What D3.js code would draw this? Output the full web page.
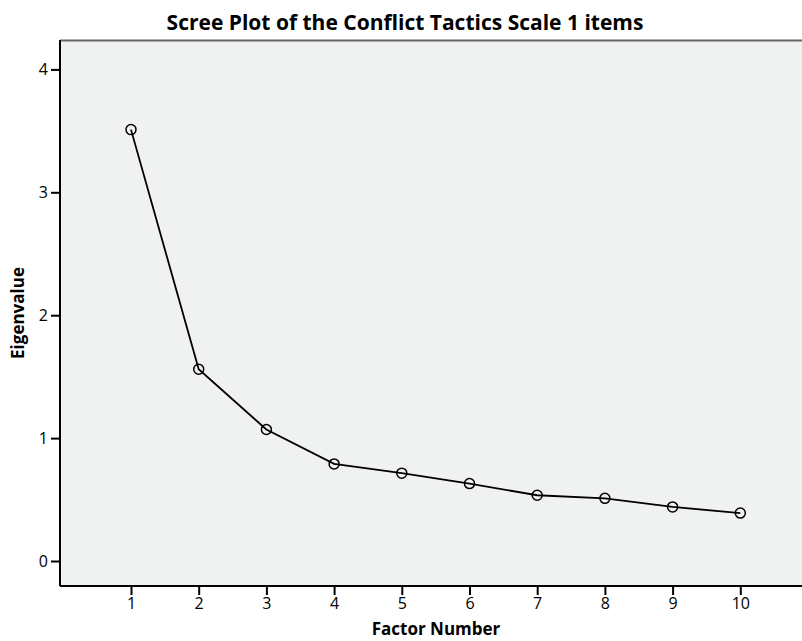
<!DOCTYPE html>
<html>
<head>
<meta charset="utf-8">
<title>Scree Plot</title>
<script src="https://cdn.jsdelivr.net/npm/d3@7"></script>
<style>
body { margin: 0; background: #fff; }
text { font-family: "Open Sans", "DejaVu Sans", sans-serif; fill: #000; }
.title { font-weight: bold; font-size: 21px; }
.axis-title { font-weight: bold; font-size: 17px; }
</style>
</head>
<body>
<div id="chart"></div>
<script>
// factor numbers and eigenvalues
var factors = [1, 2, 3, 4, 5, 6, 7, 8, 9, 10];
var eigenvalues = [3.51, 1.56, 1.07, 0.79, 0.715, 0.63, 0.535, 0.51, 0.44, 0.39];
var yTicks = [0, 1, 2, 3, 4];

var width = 802, height = 641;
var margin = {top: 40, right: 0, bottom: 55, left: 60};
var plotW = width - margin.left - margin.right,
    plotH = height - margin.top - margin.bottom;

var svg = d3.select('#chart').append('svg')
    .attr('width', width)
    .attr('height', height);

var g = svg.append('g')
    .attr('transform', 'translate(' + [margin.left, margin.top] + ')');

var x = d3.scaleLinear()
    .domain([1 - 71 / 67.7, 1 + (plotW - 71) / 67.7])
    .range([0, plotW]);
var y = d3.scaleLinear()
    .domain([0, 4])
    .range([521, 29.4]);

// plot background
g.append('rect')
    .attr('width', plotW)
    .attr('height', plotH)
    .style('fill', '#f0f1f1');

// top border (grey)
g.append('line')
    .attr('x1', 0).attr('x2', plotW)
    .attr('y1', 0.5).attr('y2', 0.5)
    .style('stroke', '#666')
    .style('stroke-width', 2);

// axes
var xAxis = d3.axisBottom(x)
    .tickValues(factors)
    .tickFormat(d3.format('d'))
    .tickSize(9)
    .tickSizeOuter(0)
    .tickPadding(3);
var yAxis = d3.axisLeft(y)
    .tickValues(yTicks)
    .tickFormat(d3.format('d'))
    .tickSize(9)
    .tickSizeOuter(0)
    .tickPadding(3);

g.append('g')
    .attr('class', 'x axis')
    .attr('transform', 'translate(0,' + plotH + ')')
    .call(xAxis);
g.append('g')
    .attr('class', 'y axis')
    .call(yAxis);

g.selectAll('.axis')
    .attr('font-size', 16)
    .attr('font-family', null);
g.selectAll('.axis .tick text')
    .style('font-size', '16px')
    .style('fill', '#000');
g.selectAll('.axis path.domain')
    .style('stroke', '#000')
    .style('stroke-width', 2);
g.selectAll('.axis .tick line')
    .style('stroke', '#000')
    .style('stroke-width', 2);
g.selectAll('.x.axis path.domain').attr('d', 'M0,0H' + plotW);
g.selectAll('.y.axis path.domain').attr('d', 'M0,0V' + plotH);

// line and markers
var line = d3.line()
    .x(function(d, i) { return x(factors[i]); })
    .y(function(d) { return y(d); });

g.append('path')
    .datum(eigenvalues)
    .attr('d', line)
    .style('fill', 'none')
    .style('stroke', '#000')
    .style('stroke-width', 1.8);

g.selectAll('.pt')
    .data(eigenvalues)
  .enter().append('circle')
    .attr('class', 'pt')
    .attr('cx', function(d, i) { return x(factors[i]); })
    .attr('cy', function(d) { return y(d); })
    .attr('r', 5)
    .style('fill', 'none')
    .style('stroke', '#000')
    .style('stroke-width', 1.5);

// titles
svg.append('text')
    .attr('class', 'title')
    .attr('x', 405)
    .attr('y', 30)
    .attr('text-anchor', 'middle')
    .text('Scree Plot of the Conflict Tactics Scale 1 items');

svg.append('text')
    .attr('class', 'axis-title')
    .attr('x', 436)
    .attr('y', 635)
    .attr('text-anchor', 'middle')
    .text('Factor Number');

svg.append('text')
    .attr('class', 'axis-title')
    .attr('transform', 'translate(24,313) rotate(-90)')
    .attr('text-anchor', 'middle')
    .text('Eigenvalue');
</script>
</body>
</html>
